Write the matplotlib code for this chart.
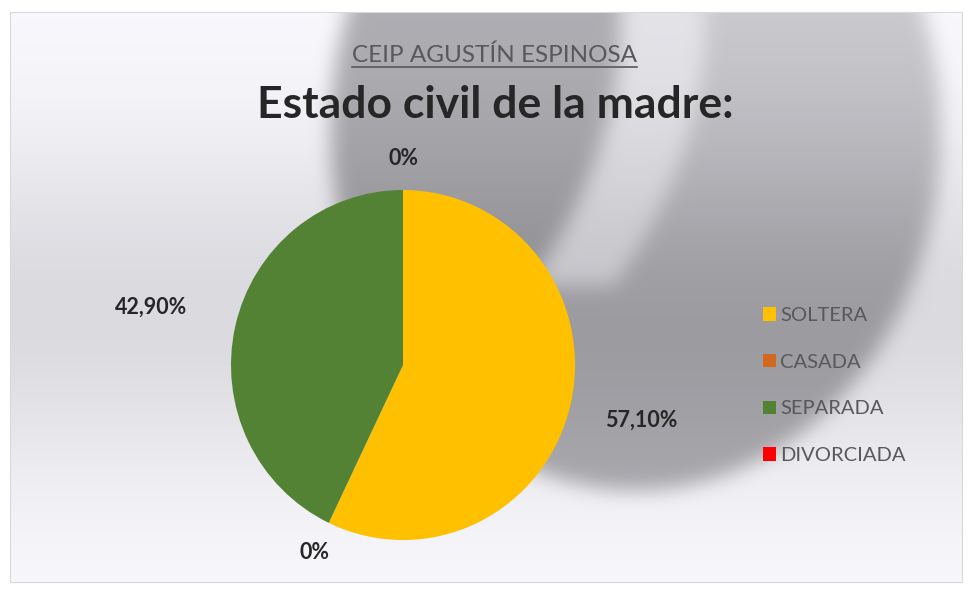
import numpy as np
import matplotlib
matplotlib.use("Agg")
import matplotlib.pyplot as plt
from matplotlib.patches import Rectangle

plt.rcParams['font.family'] = ['Liberation Sans Narrow', 'Lato', 'DejaVu Sans']

# Datos
categorias = ['SOLTERA', 'CASADA', 'SEPARADA', 'DIVORCIADA']
valores = [57.1, 0, 42.9, 0]
colores = ['#FFC000', '#D2691E', '#548235', '#FF0000']
distancias = [1.42, 1.19, 1.50, 1.18]

titulo_sup = 'CEIP AGUSTÍN ESPINOSA'
titulo = 'Estado civil de la madre:'

W, H = 970, 590
fig = plt.figure(figsize=(W / 100, H / 100), dpi=100)

# Fondo con degradado y forma decorativa difuminada
bg = fig.add_axes([0, 0, 1, 1])
yy, xx = np.mgrid[0:H, 0:W].astype(float)
base = 0.975 - 0.12 * np.exp(-((yy - 310) / 170) ** 2)

medio = (((xx - 635) / 305) ** 2 + ((yy - 130) / 360) ** 2) < 1
oscuro = medio & (xx < 620 - 0.0013 * (yy - 20) ** 2)
canal = medio & ~oscuro & (xx < 705 - 0.0013 * (yy - 20) ** 2) & (yy < 285)
sombra = np.where(medio, 0.18 + 0.09 * yy / 450, 0.0)
sombra[oscuro] = 0.29
sombra[canal] = 0.08


def blur(a, k):
    p = k // 2
    for eje in (0, 1):
        pad = [(0, 0), (0, 0)]
        pad[eje] = (p + 1, p)
        b = np.pad(a, pad, mode='edge')
        c = np.cumsum(b, axis=eje)
        if eje == 0:
            a = (c[k:] - c[:-k]) / k
        else:
            a = (c[:, k:] - c[:, :-k]) / k
    return a


for _ in range(3):
    sombra = blur(sombra, 19)

gris = base - sombra
dentro = (xx >= 10) & (xx <= 962) & (yy >= 12) & (yy <= 582)
gris = np.where(dentro, gris, 1.0)
azul = np.clip(gris + 0.02 * dentro, 0, 1)
img = np.dstack([gris, gris, azul])
bg.imshow(img, extent=(0, W, H, 0), aspect='auto', interpolation='bilinear')
bg.add_patch(Rectangle((10, 12), 952, 570, fill=False, edgecolor='#d9d9d9', linewidth=0.8))
bg.set_xlim(0, W)
bg.set_ylim(H, 0)
bg.axis('off')

# Títulos
t1 = fig.text(495 / W, 1 - 62 / H, titulo_sup, ha='center', va='baseline',
              fontsize=17.5, color='#595959')
fig.text(495 / W, 1 - 118 / H, titulo, ha='center', va='baseline',
         fontsize=32, fontweight='bold', color='#262626')

fig.canvas.draw()
bb = t1.get_window_extent().transformed(bg.transData.inverted())
bg.plot([bb.x0, bb.x1], [67, 67], color='#595959', linewidth=1.2)

# Gráfico circular
cx, cy, rx, ry = 403, 365, 172, 175
ax = fig.add_axes([(cx - rx) / W, (H - cy - ry) / H, 2 * rx / W, 2 * ry / H])
wedges, _ = ax.pie(valores, colors=colores, startangle=90, counterclock=False,
                   radius=1.0)
ax.set_xlim(-1, 1)
ax.set_ylim(-1, 1)
ax.set_aspect('auto')
ax.axis('off')


def etiqueta(v):
    if v == 0:
        return '0%'
    return f'{v:.2f}%'.replace('.', ',')


for w, v, d in zip(wedges, valores, distancias):
    ang = np.deg2rad((w.theta1 + w.theta2) / 2)
    ax.text(d * np.cos(ang), d * np.sin(ang), etiqueta(v), ha='center', va='center',
            fontsize=15.5, fontweight='bold', color='#262626', clip_on=False)

# Leyenda
fig.legend(wedges, categorias, loc='upper left',
           bbox_to_anchor=(745 / W, 1 - 289 / H), frameon=False,
           fontsize=14.5, labelcolor='#595959', handlelength=0.65, handleheight=0.65,
           handletextpad=0.2, labelspacing=1.47)

fig.savefig('out.png', dpi=100)
